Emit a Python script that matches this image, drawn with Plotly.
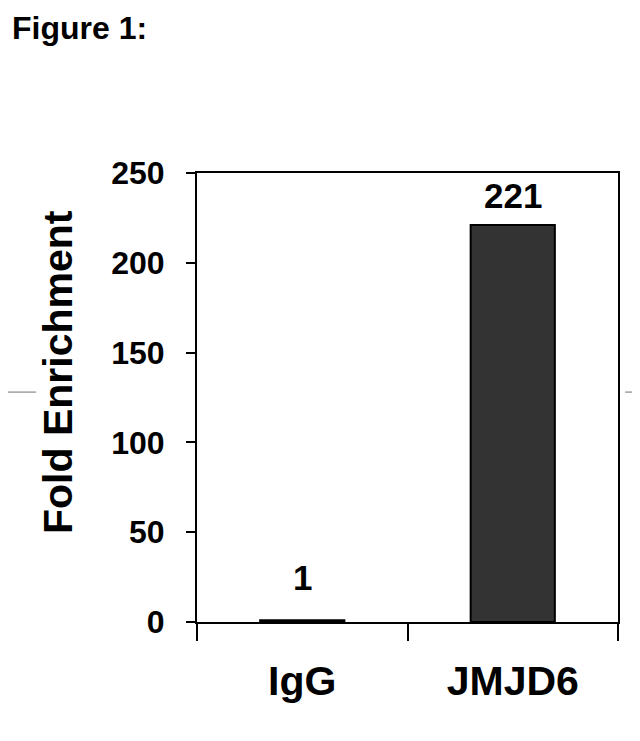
import plotly.graph_objects as go

categories = ["IgG", "JMJD6"]
fold_enrichment = [1, 221]
value_labels = ["1", "221"]
y_tick_values = [0, 50, 100, 150, 200, 250]

FONT = "Liberation Sans, Arial, sans-serif"

# page body has an 8px default margin; compensate so the figure sits like the reference
W, H = 632, 733

fig = go.Figure()
fig.add_trace(go.Bar(
    x=categories,
    y=fold_enrichment,
    width=0.4,
    marker=dict(color="#333333", line=dict(color="#000000", width=2)),
    hoverinfo="x+y",
))

label_shift = [21, 8]
for cat, val, lab, sh in zip(categories, fold_enrichment, value_labels, label_shift):
    fig.add_annotation(
        x=cat, y=val, xref="x", yref="y",
        text="<b>%s</b>" % lab, showarrow=False,
        yanchor="bottom", yshift=sh,
        font=dict(family=FONT, size=35, color="#000000"),
    )

fig.update_layout(
    width=W, height=H,
    margin=dict(l=189, r=22, t=165, b=119),
    paper_bgcolor="white",
    plot_bgcolor="white",
    showlegend=False,
    title=dict(
        text="<b>Figure 1:</b>",
        x=4 / W, xanchor="left", xref="container",
        y=1 - 20 / H, yanchor="middle", yref="container",
        font=dict(family=FONT, size=32, color="#000000"),
    ),
    font=dict(family=FONT, color="#000000"),
)

fig.update_xaxes(
    type="category",
    showline=True, linecolor="#000000", linewidth=2, mirror=True,
    ticks="outside", ticklen=17, tickwidth=2, tickcolor="#000000",
    tickson="boundaries",
    tickfont=dict(family=FONT, size=41, color="#000000"),
    ticklabelstandoff=22,
    tickvals=categories,
    ticktext=["<b>%s</b>" % c for c in categories],
    showgrid=False, zeroline=False,
)

fig.update_yaxes(
    range=[0, 250],
    tickvals=y_tick_values,
    ticktext=["<b>%d</b>" % v for v in y_tick_values],
    showline=True, linecolor="#000000", linewidth=2, mirror=True,
    ticks="outside", ticklen=9, tickwidth=2, tickcolor="#000000",
    tickfont=dict(family=FONT, size=32, color="#000000"),
    ticklabelstandoff=15,
    showgrid=False, zeroline=False,
)

# y-axis title as a rotated annotation (sits slightly above the plot centre)
fig.add_annotation(
    xref="paper", yref="paper", x=-0.330, y=0.557,
    text="<b>Fold Enrichment</b>", textangle=-90, showarrow=False,
    xanchor="center", yanchor="middle",
    font=dict(family=FONT, size=41, color="#000000"),
)

# faint horizontal guide strokes at the page edges (scan artefact)
for x0, x1 in [(-0.449, -0.382), (1.017, 1.06)]:
    fig.add_shape(type="line", xref="paper", yref="paper",
                  x0=x0, x1=x1, y0=0.512, y1=0.512,
                  line=dict(color="#a0a0a0", width=1.5))

fig.write_html("out.html")
